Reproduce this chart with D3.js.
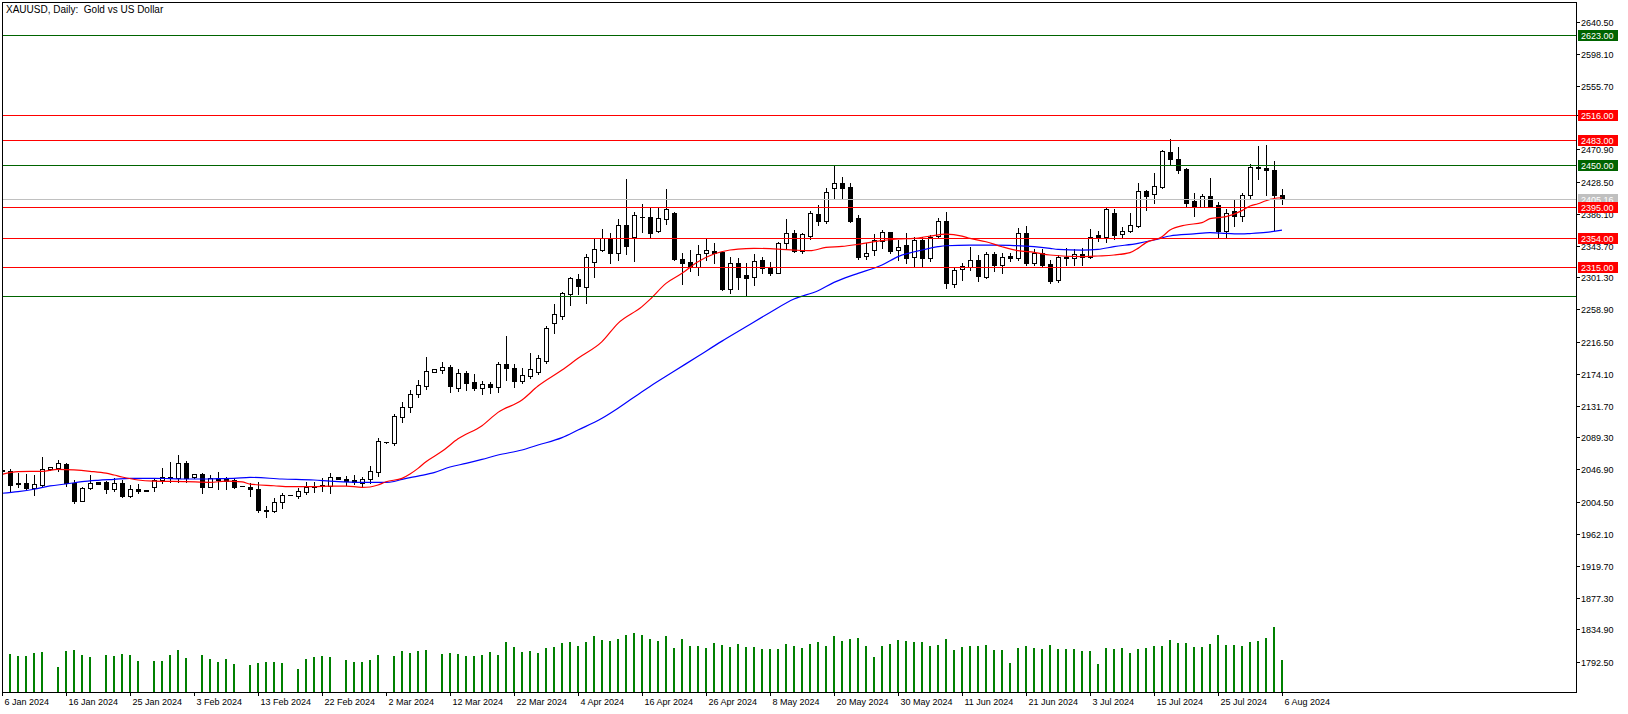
<!DOCTYPE html>
<html><head><meta charset="utf-8">
<script src="https://cdn.jsdelivr.net/npm/d3@7"></script>
<style>
html,body{margin:0;padding:0;background:#fff;overflow:hidden;}
svg{display:block;font-family:"Liberation Sans",Arial,sans-serif;}
</style></head><body>
<svg id="c" width="1628" height="714"></svg>
<script>
// ---------------- DATA ----------------
const opens = [2046.0,2045.0,2028.6,2028.6,2022.9,2026.4,2047.1,2048.5,2053.8,2028.6,
2005.6,2022.0,2029.9,2029.9,2020.7,2028.6,2012.3,2021.1,2019.3,2023.3,
2033.0,2036.8,2035.2,2055.1,2036.6,2040.5,2024.2,2035.2,2035.2,2033.0,
2025.2,2024.2,2020.7,1992.6,1992.0,2004.2,2012.8,2012.2,2017.5,2024.0,
2026.0,2025.0,2036.9,2033.8,2032.9,2029.4,2033.8,2044.0,2083.3,2081.5,
2116.9,2129.2,2146.5,2158.0,2176.5,2179.1,2182.3,2155.3,2174.3,2162.4,
2154.4,2159.7,2156.6,2186.2,2180.9,2164.2,2171.2,2176.5,2190.7,2240.6,
2250.7,2279.0,2299.3,2289.2,2322.3,2337.7,2352.3,2333.3,2370.9,2355.4,
2381.5,2381.0,2363.3,2378.3,2386.3,2325.3,2321.3,2315.6,2333.3,2336.4,
2334.6,2285.6,2320.0,2304.5,2302.3,2324.4,2313.4,2307.6,2346.5,2359.8,
2336.4,2356.2,2385.4,2376.1,2419.4,2426.0,2420.7,2379.7,2329.7,2337.7,
2350.1,2361.1,2337.7,2344.3,2328.0,2350.9,2326.6,2356.2,2376.1,2292.2,
2312.1,2315.6,2324.4,2302.3,2332.0,2317.8,2329.7,2327.5,2359.8,2320.0,
2334.2,2318.7,2298.0,2328.9,2327.6,2332.0,2328.0,2357.6,2355.4,2386.3,
2358.5,2363.4,2370.0,2415.9,2411.5,2421.7,2467.2,2457.9,2445.1,2402.7,
2395.2,2409.3,2397.4,2363.4,2389.9,2382.8,2410.6,2447.5,2446.0,2443.5,
2410.5];
const highs = [2046.5,2047.6,2041.9,2040.5,2039.6,2063.5,2050.0,2059.5,2055.1,2033.0,
2024.2,2039.6,2030.0,2031.7,2035.2,2033.0,2026.4,2027.3,2019.3,2035.2,
2049.4,2057.3,2066.2,2058.2,2041.0,2041.9,2039.6,2044.1,2037.4,2036.1,
2025.5,2028.6,2030.7,1998.0,2008.6,2015.3,2013.5,2022.3,2030.7,2030.7,
2035.1,2041.8,2037.0,2038.7,2039.6,2037.4,2051.5,2088.2,2083.5,2120.0,
2136.7,2152.2,2165.4,2196.4,2180.0,2189.8,2185.4,2179.6,2177.8,2173.4,
2164.6,2163.3,2189.8,2223.8,2186.7,2180.9,2201.7,2198.6,2237.0,2266.2,
2282.5,2302.4,2305.9,2332.0,2354.1,2365.6,2359.8,2378.4,2431.4,2388.5,
2398.6,2394.2,2392.9,2418.1,2388.5,2334.2,2337.7,2344.3,2353.2,2346.5,
2335.5,2328.0,2326.6,2320.0,2332.0,2328.9,2321.3,2348.7,2378.3,2364.2,
2359.8,2389.8,2397.3,2419.4,2450.3,2434.9,2426.0,2384.1,2347.4,2358.9,
2364.2,2362.0,2350.9,2359.8,2354.5,2354.5,2357.6,2379.7,2388.5,2315.6,
2320.9,2341.2,2331.1,2335.5,2335.5,2333.3,2334.2,2366.4,2369.5,2338.6,
2338.6,2324.4,2331.1,2339.9,2338.6,2339.9,2365.6,2362.9,2392.9,2391.6,
2368.7,2386.3,2426.1,2417.2,2440.2,2470.2,2484.4,2474.7,2446.0,2413.7,
2411.9,2433.6,2401.8,2391.6,2404.0,2413.7,2451.5,2476.0,2477.5,2456.0,
2419.0];
const lows = [2044.5,2017.6,2024.2,2020.7,2013.1,2025.5,2046.5,2045.4,2025.1,2002.1,
2005.2,2020.7,2028.0,2016.2,2018.9,2010.9,2010.1,2015.4,2018.0,2018.9,
2028.6,2029.9,2030.8,2030.8,2036.0,2015.4,2023.3,2020.7,2020.7,2022.0,
2024.8,2011.8,1990.0,1984.4,1990.0,1995.4,2012.5,2009.5,2014.4,2017.5,
2018.8,2016.2,2034.5,2026.3,2027.6,2024.1,2028.5,2038.7,2082.5,2079.3,
2110.2,2123.5,2143.4,2153.5,2176.0,2174.3,2150.0,2151.3,2152.2,2152.2,
2146.5,2147.8,2149.1,2165.5,2156.6,2161.1,2167.7,2173.0,2187.6,2228.2,
2246.3,2264.9,2279.4,2268.0,2302.4,2336.9,2320.1,2324.5,2332.0,2323.6,
2362.0,2354.5,2362.0,2372.1,2324.4,2292.2,2310.3,2304.6,2324.4,2320.0,
2284.7,2281.2,2285.6,2277.2,2291.3,2307.6,2304.5,2306.8,2339.9,2334.6,
2334.2,2351.8,2370.8,2373.9,2406.2,2406.2,2375.2,2325.3,2325.3,2331.1,
2339.9,2334.2,2324.4,2320.0,2315.6,2315.6,2323.6,2354.5,2286.9,2289.1,
2297.9,2311.2,2296.6,2301.0,2309.9,2306.8,2323.6,2324.4,2317.8,2317.8,
2315.6,2293.5,2295.8,2317.9,2317.9,2317.9,2326.7,2350.1,2348.8,2351.9,
2353.2,2362.0,2368.7,2390.7,2400.5,2419.5,2450.4,2439.3,2394.3,2382.8,
2394.3,2394.3,2353.2,2354.5,2369.5,2376.6,2406.0,2432.0,2410.0,2364.0,
2399.0];
const closes = [2045.0,2026.4,2027.3,2022.0,2027.3,2047.1,2049.8,2055.1,2028.6,2005.2,
2022.0,2028.6,2028.2,2020.7,2028.6,2012.3,2020.7,2018.9,2018.0,2033.0,
2036.6,2035.5,2055.1,2036.1,2040.5,2024.2,2035.2,2033.5,2032.1,2024.2,
2025.0,2020.7,1992.6,1991.7,2004.5,2013.1,2013.3,2017.9,2024.1,2024.5,
2026.5,2036.5,2034.7,2031.6,2030.7,2033.8,2044.4,2084.6,2082.9,2117.3,
2129.2,2146.5,2158.8,2176.9,2179.6,2182.2,2157.5,2174.3,2162.0,2155.3,
2159.7,2156.6,2186.2,2180.9,2164.2,2172.1,2180.1,2194.2,2233.9,2252.5,
2280.3,2300.2,2290.5,2328.9,2338.6,2353.2,2334.2,2370.9,2343.0,2384.1,
2382.0,2359.8,2379.7,2391.6,2325.8,2320.9,2314.7,2332.0,2337.7,2334.2,
2285.6,2320.0,2302.3,2301.0,2322.7,2313.4,2307.6,2347.4,2359.8,2336.4,
2358.4,2386.3,2376.6,2414.1,2426.0,2420.3,2376.6,2328.9,2333.3,2350.9,
2361.1,2336.8,2342.1,2326.6,2350.9,2326.6,2355.4,2376.1,2293.5,2311.2,
2316.5,2324.4,2303.7,2332.0,2317.8,2328.9,2327.5,2359.8,2320.9,2334.2,
2317.8,2297.0,2328.0,2326.7,2332.0,2328.0,2355.4,2354.5,2391.6,2357.6,
2363.4,2370.4,2415.9,2409.3,2422.5,2468.9,2458.3,2443.7,2400.5,2395.2,
2409.3,2396.0,2363.4,2387.2,2383.2,2410.6,2447.5,2446.0,2443.5,2410.5,
2405.16];
// tick volume (thousands)
const volumes = [0,38,36,36,39,40,0,25,41,42,37,35,0,37,36,38,37,31,0,31,
31,37,42,34,0,37,33,30,33,28,0,27,29,30,30,29,0,23,33,35,
36,35,0,32,30,30,32,37,0,36,41,39,41,42,0,38,39,38,36,36,
37,40,37,50,45,40,41,39,44,45,49,50,46,50,56,52,51,53,57,59,
57,53,51,56,44,53,46,46,44,49,47,45,48,45,45,43,43,43,48,46,
44,48,50,46,56,51,53,54,46,35,46,48,52,51,50,50,46,47,53,42,
45,46,46,47,42,42,29,44,46,44,43,47,43,43,43,41,41,28,44,43,
44,39,43,44,46,46,52,49,49,45,45,48,57,47,47,46,50,51,54,65,32];
// moving averages: [bar index, value]
const maFast = [[0,2040.5],[2,2044.1],[5,2044.5],[7,2047.1],[9,2046.3],[11,2044.5],[13,2042.0],[14,2039.6],[15,2037.0],[17,2033.0],
[19,2031.5],[23,2030.8],[26,2029.9],[28,2031.5],[30,2030.5],[31,2027.6],[34,2025.4],[36,2024.1],[39,2024.1],[41,2025.0],
[43,2025.0],[45,2023.2],[46,2023.7],[47,2026.3],[48,2030.7],[50,2035.1],[51,2040.9],[52,2048.4],[53,2057.2],[55,2071.0],
[57,2087.5],[60,2105.0],[62,2122.6],[65,2139.0],[67,2157.5],[70,2178.7],[72,2194.2],[75,2216.3],[77,2240.6],[80,2262.7],
[81,2272.3],[83,2293.5],[85,2306.8],[87,2322.2],[89,2332.4],[91,2337.7],[92,2339.0],[94,2339.9],[97,2339.0],[99,2337.7],
[101,2336.8],[103,2341.2],[105,2342.5],[107,2345.2],[110,2350.1],[112,2352.3],[114,2353.1],[116,2356.2],[118,2358.9],[120,2356.2],
[121,2353.1],[123,2348.7],[125,2342.1],[127,2336.8],[129,2334.6],[131,2331.1],[135,2328.9],[137,2329.8],[139,2331.1],[141,2334.2],
[142,2339.9],[143,2347.5],[145,2355.4],[146,2364.2],[148,2370.9],[150,2374.0],[151,2379.3],[153,2381.9],[155,2389.9],[156,2396.0],
[157,2399.0],[158,2403.0],[159,2406.0],[160,2407.0]];
const maSlow = [[0,2015.4],[2,2017.6],[4,2020.7],[6,2025.1],[8,2027.7],[10,2030.8],[12,2032.6],[14,2033.9],[16,2035.2],[19,2035.2],
[21,2034.8],[23,2034.3],[25,2034.3],[27,2034.8],[29,2035.2],[31,2036.5],[35,2034.3],[39,2033.0],[41,2031.6],[45,2029.8],
[48,2029.8],[49,2031.0],[50,2033.8],[52,2038.2],[54,2042.7],[56,2050.2],[58,2055.0],[60,2060.3],[62,2066.1],[65,2072.7],
[67,2079.3],[70,2089.1],[72,2099.2],[75,2114.7],[77,2128.0],[80,2150.0],[81,2157.0],[84,2177.0],[87,2197.0],[90,2217.0],
[93,2236.0],[96,2255.0],[99,2272.8],[102,2283.8],[104,2294.9],[106,2303.2],[107,2306.8],[110,2317.8],[112,2328.9],[115,2337.7],
[117,2342.1],[118,2343.4],[121,2344.3],[124,2344.3],[126,2343.9],[129,2342.1],[131,2339.9],[132,2338.6],[135,2337.7],[137,2338.6],
[139,2342.2],[142,2346.6],[144,2351.0],[146,2356.3],[149,2359.0],[151,2360.7],[153,2359.8],[155,2359.0],[156,2359.5],[158,2361.0],[160,2364.0]];
const priceTicks = [2640.50,2598.10,2555.70,2516.00,2470.90,2428.50,2386.10,2343.70,2301.30,2258.90,2216.50,
  2174.10,2131.70,2089.30,2046.90,2004.50,1962.10,1919.70,1877.30,1834.90,1792.50];
const dateLabelBars = [0,8,16,24,32,40,48,56,64,72,80,88,96,104,112,120,128,136,144,152,160];
const dateLabels = ["6 Jan 2024","16 Jan 2024","25 Jan 2024","3 Feb 2024","13 Feb 2024","22 Feb 2024","2 Mar 2024",
  "12 Mar 2024","22 Mar 2024","4 Apr 2024","16 Apr 2024","26 Apr 2024","8 May 2024","20 May 2024","30 May 2024",
  "11 Jun 2024","21 Jun 2024","3 Jul 2024","15 Jul 2024","25 Jul 2024","6 Aug 2024"];
const levelPrices = [2623, 2516, 2483, 2450, 2395, 2354, 2315, 2277];
const levelKinds  = ["g","r","r","g","r","r","r","g"];
const levelLabeled = [true,true,true,true,true,true,true,false];
const bidPrice = 2405.16;
const title = "XAUUSD, Daily:  Gold vs US Dollar";

// ---------------- DRAW ----------------
const svg = d3.select("#c");
const L = 2, T = 2, R = 1576, B = 692;
const x = d3.scaleLinear().domain([0, 160]).range([2, 1282]);
const y = d3.scaleLinear().domain([1792.5, 2640.5]).range([661.5, 21.5]);
const yv = d3.scaleLinear().domain([0, 100]).range([B, B - 100]);
const colors = {g: "#006400", r: "#ff0000"};

svg.append("defs").append("clipPath").attr("id","clip")
  .append("rect").attr("x",L).attr("y",T).attr("width",R-L).attr("height",B-T);
const plot = svg.append("g").attr("clip-path","url(#clip)").attr("shape-rendering","crispEdges");

const bars = d3.range(opens.length).map(i => ({i, o: opens[i], h: highs[i], l: lows[i], c: closes[i], v: volumes[i]}));

// volumes
plot.append("g").selectAll("rect").data(bars.filter(d => d.v > 0)).join("rect")
  .attr("x", d => Math.round(x(d.i)) - 1).attr("width", 2)
  .attr("y", d => Math.round(yv(d.v))).attr("height", d => B - Math.round(yv(d.v)))
  .attr("fill", "#008000");

// candles
const cg = plot.append("g");
bars.forEach(d => {
  const cx = Math.round(x(d.i));
  cg.append("line").attr("x1", cx + 0.5).attr("x2", cx + 0.5)
    .attr("y1", Math.round(y(d.h))).attr("y2", Math.round(y(d.l)) + 1)
    .attr("stroke", "#000").attr("stroke-width", 1);
  const t = Math.round(y(Math.max(d.o, d.c))), b = Math.round(y(Math.min(d.o, d.c)));
  if (b - t < 1) {
    cg.append("line").attr("x1", cx - 2).attr("x2", cx + 3).attr("y1", t + 0.5).attr("y2", t + 0.5)
      .attr("stroke", "#000").attr("stroke-width", 1);
  } else {
    cg.append("rect").attr("x", cx - 1.5).attr("y", t + 0.5).attr("width", 4).attr("height", b - t)
      .attr("fill", d.c >= d.o ? "#fff" : "#000").attr("stroke", "#000").attr("stroke-width", 1);
  }
});

// moving averages
const lineGen = d3.line().curve(d3.curveMonotoneX).x(d => x(d[0])).y(d => y(d[1]));
plot.append("path").datum(maSlow).attr("d", lineGen).attr("fill","none").attr("stroke","#0000ff").attr("stroke-width",1.2).attr("shape-rendering","auto");
plot.append("path").datum(maFast).attr("d", lineGen).attr("fill","none").attr("stroke","#ff0000").attr("stroke-width",1.2).attr("shape-rendering","auto");

// horizontal levels
plot.append("line").attr("x1", L).attr("x2", R).attr("y1", Math.round(y(bidPrice)) + 0.5).attr("y2", Math.round(y(bidPrice)) + 0.5)
  .attr("stroke", "#c0c0c0");
levelPrices.forEach((p, k) => {
  plot.append("line").attr("x1", L).attr("x2", R).attr("y1", Math.round(y(p)) + 0.5).attr("y2", Math.round(y(p)) + 0.5)
    .attr("stroke", colors[levelKinds[k]]);
});

// frame
svg.append("rect").attr("x", L + 0.5).attr("y", T + 0.5).attr("width", R - L).attr("height", B - T)
  .attr("fill", "none").attr("stroke", "#000").attr("shape-rendering","crispEdges");

// price axis
const ax = svg.append("g").attr("font-size", "9px").attr("fill", "#000");
priceTicks.forEach(v => {
  const yy = Math.round(y(v)) + 0.5;
  ax.append("line").attr("x1", R).attr("x2", R + 4).attr("y1", yy).attr("y2", yy).attr("stroke", "#000").attr("shape-rendering","crispEdges");
  ax.append("text").attr("x", R + 5).attr("y", yy + 3.5).text(v.toFixed(2));
});
// price boxes
function box(p, col) {
  const yy = Math.round(y(p));
  ax.append("rect").attr("x", R + 2).attr("y", yy - 5).attr("width", 40).attr("height", 11).attr("fill", col);
  ax.append("text").attr("x", R + 5).attr("y", yy + 4).attr("fill", "#fff").text(p.toFixed(2));
}
box(bidPrice, "#c0c0c0");
levelPrices.forEach((p, k) => { if (levelLabeled[k]) box(p, colors[levelKinds[k]]); });

// date axis
const dx = svg.append("g").attr("font-size", "9px").attr("fill", "#000");
dateLabelBars.forEach((b, k) => {
  const xx = Math.round(x(b)) + 0.5;
  dx.append("line").attr("x1", xx).attr("x2", xx).attr("y1", B).attr("y2", B + 4).attr("stroke", "#000").attr("shape-rendering","crispEdges");
  dx.append("text").attr("x", xx + 2).attr("y", B + 13).text(dateLabels[k]);
});

// title
svg.append("text").attr("x", 6).attr("y", 13).attr("font-size", "10px").attr("xml:space","preserve")
  .style("white-space","pre").text(title);
</script>
</body></html>
